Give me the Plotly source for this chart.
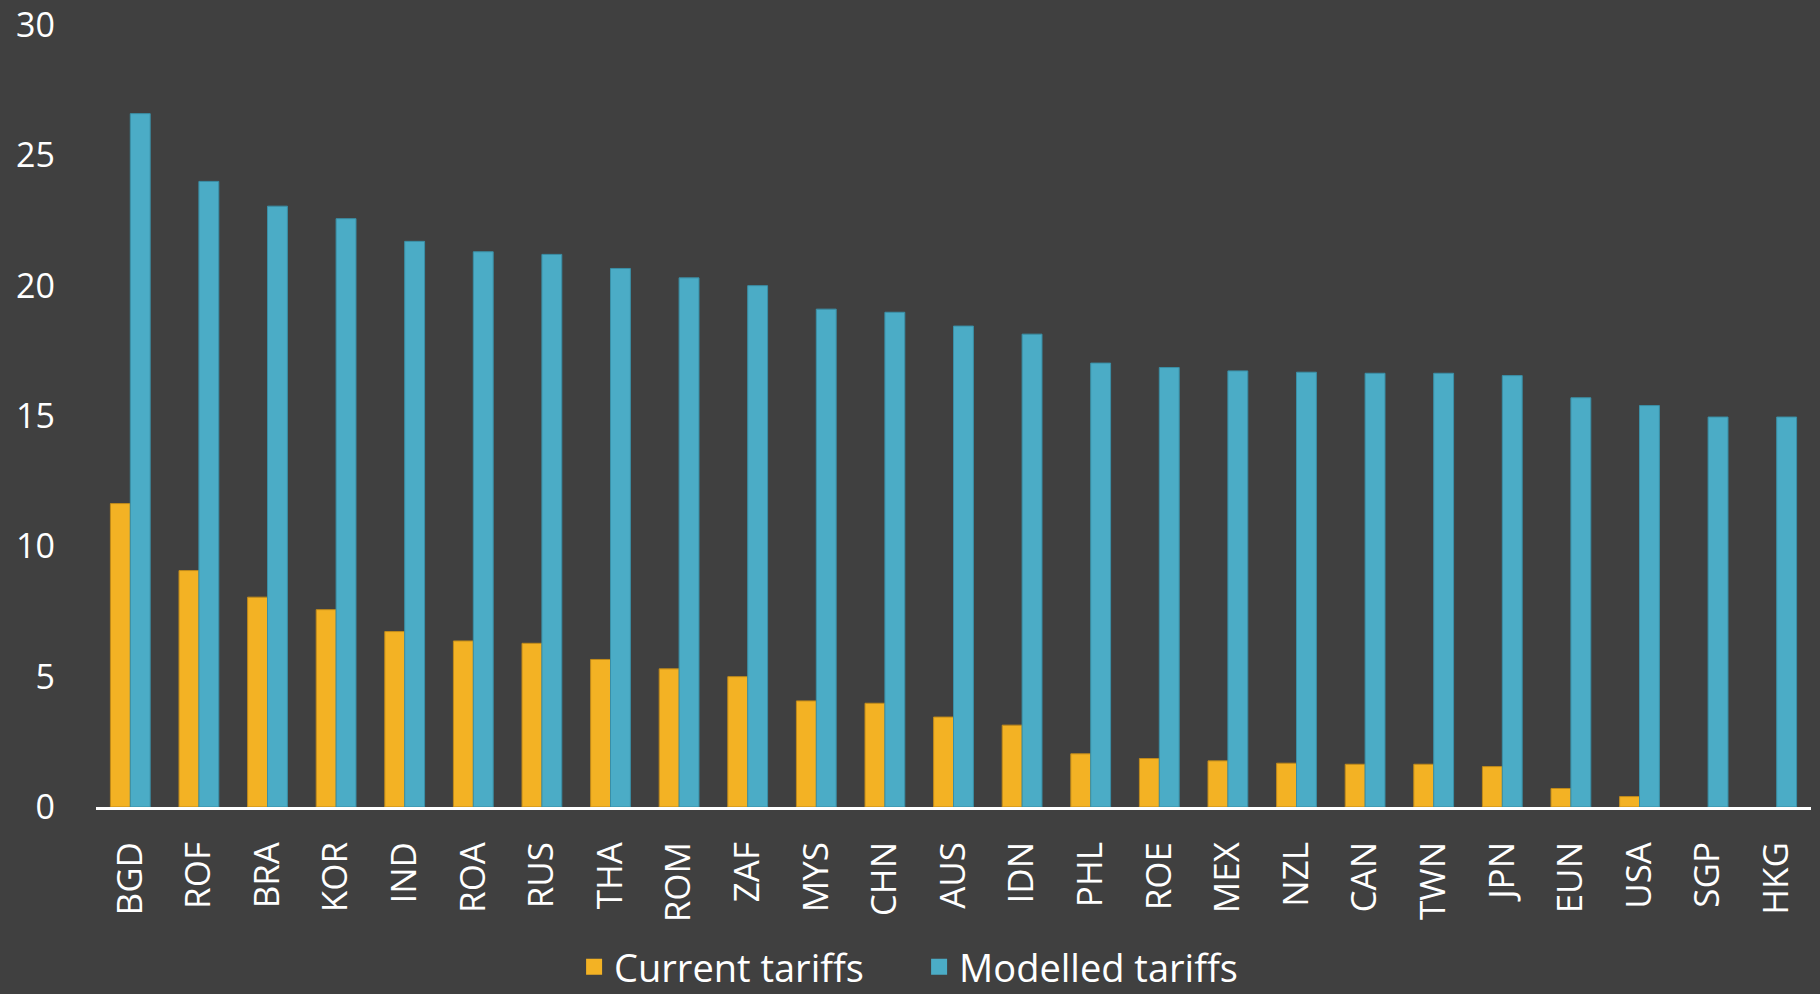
import plotly.graph_objects as go

categories = ["BGD", "ROF", "BRA", "KOR", "IND", "ROA", "RUS", "THA", "ROM", "ZAF",
              "MYS", "CHN", "AUS", "IDN", "PHL", "ROE", "MEX", "NZL", "CAN", "TWN",
              "JPN", "EUN", "USA", "SGP", "HKG"]
current_tariffs = [11.64, 9.07, 8.05, 7.57, 6.73, 6.37, 6.28, 5.66, 5.30, 5.00,
                   4.07, 3.98, 3.45, 3.14, 2.04, 1.86, 1.77, 1.68, 1.64, 1.64,
                   1.55, 0.71, 0.40, 0.0, 0.0]
modelled_tariffs = [26.6, 24.0, 23.05, 22.57, 21.7, 21.3, 21.2, 20.66, 20.3, 20.0,
                    19.1, 18.98, 18.45, 18.14, 17.03, 16.86, 16.73, 16.68, 16.64, 16.64,
                    16.55, 15.7, 15.4, 14.96, 14.96]
y_ticks = [0, 5, 10, 15, 20, 25, 30]

BG = "#404040"
FONT = "Open Sans"
ORANGE = "#F3B224"
BLUE = "#4BACC6"

fig = go.Figure()
fig.add_trace(go.Bar(
    x=categories, y=current_tariffs, name="Current tariffs", showlegend=False,
    marker=dict(color=ORANGE,
                line=dict(color="#C08A1A", width=[1 if v > 0 else 0 for v in current_tariffs])),
))
fig.add_trace(go.Bar(
    x=categories, y=modelled_tariffs, name="Modelled tariffs", showlegend=False,
    marker=dict(color=BLUE,
                line=dict(color="#3A8FA6", width=[1 if v > 0 else 0 for v in modelled_tariffs])),
))
# legend entries with square swatches
for name, col in [("Current tariffs", ORANGE), ("Modelled tariffs", BLUE)]:
    fig.add_trace(go.Scatter(
        x=[None], y=[None], mode="markers", name=name,
        marker=dict(symbol="square", size=22, color=col),
    ))

fig.update_layout(
    width=1820, height=994,
    paper_bgcolor=BG, plot_bgcolor=BG,
    barmode="group", bargap=0.42, bargroupgap=0,
    margin=dict(l=96, r=9, t=25, b=187, autoexpand=False),
    font=dict(family=FONT, color="white", size=34),
    showlegend=True,
    legend=dict(orientation="h", xref="container", yref="container",
                x=0.505, xanchor="center", y=0.027, yanchor="middle",
                font=dict(size=38, color="white"), bgcolor="rgba(0,0,0,0)",
                itemwidth=30, entrywidth=300, traceorder="normal", tracegroupgap=0),
)
fig.update_xaxes(
    type="category", tickangle=-90, showgrid=False, ticks="",
    showline=True, linecolor="white", linewidth=3,
    tickfont=dict(size=35, color="white", family=FONT),
    ticklabelstandoff=18,
)
fig.update_yaxes(
    range=[0, 30], tickvals=y_ticks, showgrid=False, zeroline=False,
    showline=False, ticks="", ticklabeloverflow="allow",
    tickfont=dict(size=34, color="white", family=FONT),
    ticklabelstandoff=40,
)

fig.write_html("out.html", config={"displayModeBar": False},
               post_script="document.body.style.margin='0';document.body.style.overflow='hidden';")
